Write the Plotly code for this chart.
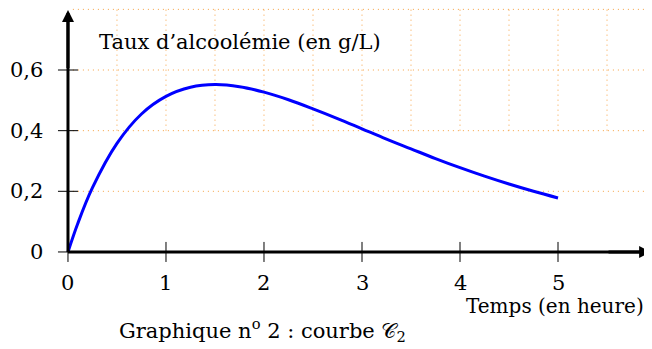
import plotly.graph_objects as go

# temps (h) et taux d'alcoolemie (g/L)
temps = [0, 0.1, 0.25, 0.5, 0.75, 1, 1.25, 1.5, 1.75, 2, 2.25, 2.5, 2.75,
         3, 3.25, 3.5, 3.75, 4, 4.25, 4.5, 4.75, 5]
taux = [0, 0.094, 0.212, 0.358, 0.455, 0.513, 0.543, 0.552, 0.545, 0.527,
        0.502, 0.472, 0.44, 0.406, 0.372, 0.34, 0.308, 0.278, 0.25, 0.224,
        0.2, 0.178]

x_ticks = [0, 1, 2, 3, 4, 5]
x_tick_labels = ['0', '1', '2', '3', '4', '5']
y_ticks = [0, 0.2, 0.4, 0.6]
y_tick_labels = ['0', '0,2', '0,4', '0,6']
grid_h = [0.2, 0.4, 0.6, 0.8]
grid_v = [0.5, 1, 1.5, 2, 2.5, 3, 3.5, 4, 4.5, 5, 5.5, 6]

FONT = 'DejaVu Serif'
GRID = dict(color='#f5a040', width=1, dash='1px,4px')

fig = go.Figure()

# grille pointillee
for y in grid_h:
    fig.add_shape(type='line', x0=0.05, x1=6, y0=y, y1=y, line=GRID, layer='below')
for x in grid_v:
    fig.add_shape(type='line', x0=x, x1=x, y0=0.4, y1=0.8, line=GRID, layer='below')

fig.add_trace(
    go.Scatter(
        x=temps, y=taux, mode='lines', line_shape='spline',
        line={'color': '#0000ff', 'width': 3},
        hoverinfo='skip',
    )
)

# graduations
for x in x_ticks:
    fig.add_shape(type='line', x0=x, x1=x, y0=-0.033, y1=0.033,
                  line={'color': 'black', 'width': 1})
for y in y_ticks:
    fig.add_shape(type='line', x0=-0.102, x1=0.102, y0=y, y1=y,
                  line={'color': 'black', 'width': 1})

# axes
fig.add_shape(type='line', x0=0, x1=5.9, y0=0, y1=0, line={'color': 'black', 'width': 3})
fig.add_shape(type='line', x0=0, x1=0, y0=0, y1=0.78, line={'color': 'black', 'width': 3})

annotations = []
for x, t in zip(x_ticks, x_tick_labels):
    annotations.append(dict(x=x, y=-0.102, text=t, showarrow=False,
                            xanchor='center', yanchor='middle'))
for y, t in zip(y_ticks, y_tick_labels):
    annotations.append(dict(x=-0.235, y=y, text=t, showarrow=False,
                            xanchor='right', yanchor='middle'))

# pointes de fleches
annotations.append(dict(x=5.95, y=0, ax=5.5, ay=0, axref='x', ayref='y',
                        showarrow=True, arrowhead=2, arrowsize=0.8, arrowwidth=3,
                        arrowcolor='black', text=' ', font={'size': 1}))
annotations.append(dict(x=0, y=0.798, ax=0, ay=0.6, axref='x', ayref='y',
                        showarrow=True, arrowhead=2, arrowsize=0.8, arrowwidth=3,
                        arrowcolor='black', text=' ', font={'size': 1}))

annotations.append(dict(x=0.296, y=0.692, text='Taux d’alcoolémie (en g/L)',
                        showarrow=False, xanchor='left', yanchor='middle'))
annotations.append(dict(x=4.04, y=-0.178, text='Temps (en heure)',
                        showarrow=False, xanchor='left', yanchor='middle',
                        font={'size': 20}))
annotations.append(dict(x=0.5, y=-0.257,
                        text='Graphique n<sup>o</sup> 2 : courbe 𝒞<sub>2</sub>',
                        showarrow=False, xanchor='left', yanchor='middle'))

# la page ajoute 8 px de marge : figure un peu plus petite
fig.update_layout(
    width=644, height=341,
    margin={'r': 0, 't': 0, 'l': 0, 'b': 0},
    plot_bgcolor='white', paper_bgcolor='white',
    showlegend=False,
    font={'family': FONT, 'size': 21, 'color': 'black'},
    xaxis={'range': [-0.612, 5.959], 'visible': False},
    yaxis={'range': [-0.320, 0.8045], 'visible': False},
    annotations=annotations,
)

fig.write_html('out.html')
